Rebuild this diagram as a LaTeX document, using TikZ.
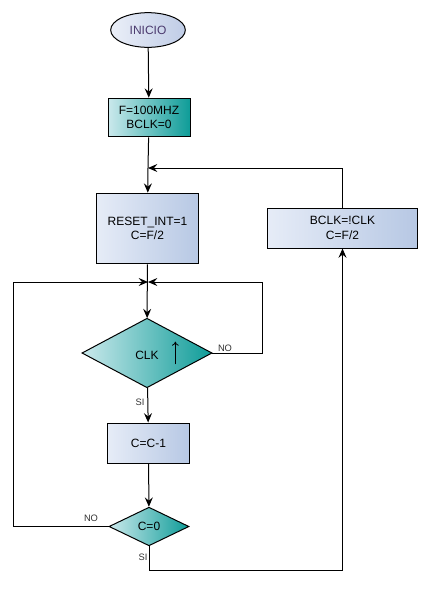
\documentclass[tikz,border=0pt]{standalone}
\usepackage{fontspec}
\setmainfont{Liberation Sans}
\usepackage{xcolor}
\usetikzlibrary{arrows.meta,shapes.geometric}
\definecolor{boxL}{HTML}{E6ECF7}
\definecolor{boxR}{HTML}{B7C8E4}
\definecolor{tealL}{HTML}{CBE9EC}
\definecolor{tealR}{HTML}{0E9C98}
\definecolor{ovalL}{HTML}{EBEFF8}
\definecolor{ovalR}{HTML}{BFCCE6}
\definecolor{inkP}{HTML}{4B3A6E}

\begin{document}
\begin{tikzpicture}[x=0.75pt, y=-0.75pt, line width=0.75pt,
    >={Stealth[length=7pt,width=6pt,inset=2.5pt]},
    every node/.style={font=\fontsize{9}{11}\selectfont, align=center},
    procbox/.style={draw, rectangle, inner sep=0pt, left color=boxL, right color=boxR},
    tealbox/.style={draw, rectangle, inner sep=0pt, left color=tealL, right color=tealR},
    testbox/.style={draw, diamond, inner sep=0pt, aspect=1.9, left color=tealL, right color=tealR},
    branch/.style={font=\fontsize{7}{8}\selectfont, text=black!80}]
  \useasboundingbox (0,0) rectangle (427,607);
  % Start and set-up
  \node[draw, ellipse, inner sep=0pt, minimum width=56pt, minimum height=26pt,
        left color=ovalL, right color=ovalR, text=inkP] (inicio) at (148,30) {INICIO};
  \node[tealbox, minimum width=61.5pt, minimum height=29pt] (init) at (149,117.5) {F=100MHZ\\BCLK=0};
  \node[procbox, minimum width=77pt, minimum height=53pt] (reset) at (147.5,228.5) {RESET\_INT=1\\C=F/2};
  \node[procbox, minimum width=112pt, minimum height=30pt] (bclk) at (342.5,228) {BCLK=!CLK\\C=F/2};
  \coordinate (join1) at (148,168);
  \coordinate (join2) at (148,282);
  % Edge test and counter
  \node[testbox, minimum width=97.5pt, minimum height=52pt] (clk) at (147,353)
    {CLK\rlap{\hspace{10pt}\tikz[baseline=0pt]\draw[->, line width=0.6pt, >={To[length=3pt,width=5pt]}] (0,-4pt) -- (0,13pt);}};
  \node[procbox, minimum width=61pt, minimum height=30pt] (dec) at (148.5,443) {C=C-1};
  \node[testbox, minimum width=60pt, minimum height=29pt] (zero) at (149,526.5) {C=0};
  % Connectors
  \draw[->] (inicio) -- (init);
  \draw[->] (init) -- (join1) -- (reset);
  \draw[->] (bclk.north) |- (join1);
  \draw[->] (reset) -- (clk);
  \draw[->] (clk.east) -- ++(50,0) |- (join2);
  \draw[->] (clk) -- (dec);
  \draw[->] (dec) -- (zero);
  \draw[->] (zero.west) -- ++(-95,0) |- (join2);
  \draw[->] (zero.south) -- ++(0,24) -| (bclk.south);
  % Branch labels
  \node[branch] (clkno) at (225,348) {NO};
  \node[branch] (clksi) at (140,402) {SI};
  \node[branch] (zerono) at (91,518) {NO};
  \node[branch] (zerosi) at (143,557) {SI};
\end{tikzpicture}
\end{document}
